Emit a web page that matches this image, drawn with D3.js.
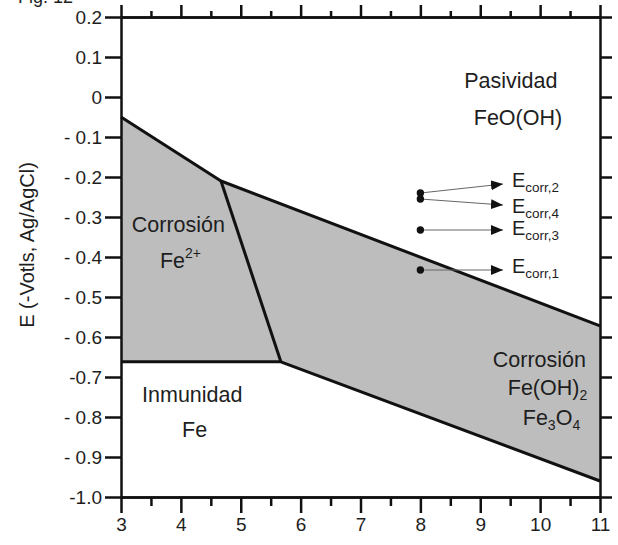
<!DOCTYPE html>
<html>
<head>
<meta charset="utf-8">
<script src="https://cdn.jsdelivr.net/npm/d3@7"></script>
<style>
  body { margin: 0; background: #fff; }
  svg text { font-family: "Liberation Sans", Arial, sans-serif; fill: #1e1e1e; }
</style>
</head>
<body>
<svg id="chart" width="618" height="545"></svg>
<script>
// data
const xTicks = [3, 4, 5, 6, 7, 8, 9, 10, 11];
const yTicks = [0.2, 0.1, 0, -0.1, -0.2, -0.3, -0.4, -0.5, -0.6, -0.7, -0.8, -0.9, -1.0];
const yTickLabels = ["0.2", "0.1", "0", "- 0.1", "- 0.2", "- 0.3", "- 0.4", "- 0.5", "- 0.6", "-0.7", "- 0.8", "- 0.9", "-1.0"];

// shaded corrosion region (pH, E)
const corrosionArea = [[3, -0.05], [4.67, -0.21], [11, -0.572], [11, -0.96], [5.67, -0.662], [3, -0.662]];
// boundary lines
const boundaries = [
  [[3, -0.05], [4.67, -0.21], [11, -0.572]],
  [[4.67, -0.21], [5.67, -0.662]],
  [[3, -0.662], [5.67, -0.662], [11, -0.96]]
];

// corrosion potentials: point, arrow tip, label baseline
const ecorrNames = ["2", "4", "3", "1"];
const ecorrPH = [8, 8, 8, 8];
const ecorrE = [-0.24, -0.255, -0.3325, -0.4325];
const arrowEndPH = [9.38, 9.38, 9.38, 9.38];
const arrowEndE = [-0.2175, -0.27, -0.3325, -0.4325];
const labelE = [-0.225, -0.29, -0.345, -0.44];

const svg = d3.select("#chart");
const margin = {left: 121, top: 17, right: 18, bottom: 48};
const width = 600 - margin.left;
const height = 497 - margin.top;

const x = d3.scaleLinear().domain([3, 11]).range([margin.left, margin.left + width]);
const y = d3.scaleLinear().domain([-1.0, 0.2]).range([margin.top + height, margin.top]);

// shaded area
svg.append("path")
  .datum(corrosionArea)
  .attr("d", d3.line().x(d => x(d[0])).y(d => y(d[1])))
  .attr("fill", "#bdbdbd")
  .attr("stroke", "none");

svg.selectAll(".boundary")
  .data(boundaries)
  .enter().append("path")
  .attr("class", "boundary")
  .attr("d", d3.line().x(d => x(d[0])).y(d => y(d[1])))
  .attr("fill", "none")
  .attr("stroke", "#111")
  .attr("stroke-width", 3)
  .attr("stroke-linejoin", "round");

// axes
const minorX = d3.range(3.5, 11, 1);
function styleAxis(g) {
  g.select(".domain").attr("stroke", "#111").attr("stroke-width", 2.5);
  g.selectAll(".tick line").attr("stroke", "#111").attr("stroke-width", 2.5);
}

const axBottom = svg.append("g").attr("transform", "translate(0," + (margin.top + height) + ")");
axBottom.call(d3.axisBottom(x).tickValues(minorX).tickSize(9).tickFormat("").tickSizeOuter(0));
axBottom.call(styleAxis);
const axBottomMajor = svg.append("g").attr("transform", "translate(0," + (margin.top + height) + ")");
axBottomMajor.call(d3.axisBottom(x).tickValues(xTicks).tickSize(16).tickSizeOuter(0).tickPadding(5).tickFormat(d3.format("d")));
axBottomMajor.call(styleAxis);
axBottomMajor.selectAll("text").attr("font-size", 19);

const axTop = svg.append("g").attr("transform", "translate(0," + margin.top + ")");
axTop.call(d3.axisTop(x).tickValues(minorX).tickSize(6).tickFormat("").tickSizeOuter(0));
axTop.call(styleAxis);
const axTopMajor = svg.append("g").attr("transform", "translate(0," + margin.top + ")");
axTopMajor.call(d3.axisTop(x).tickValues(xTicks).tickSize(12).tickFormat("").tickSizeOuter(0));
axTopMajor.call(styleAxis);

const axLeft = svg.append("g").attr("transform", "translate(" + margin.left + ",0)");
axLeft.call(d3.axisLeft(y).tickValues(yTicks).tickSize(16).tickSizeOuter(0).tickPadding(3)
  .tickFormat((d, i) => yTickLabels[i]));
axLeft.call(styleAxis);
axLeft.selectAll("text").attr("font-size", 19);

const axRight = svg.append("g").attr("transform", "translate(" + (margin.left + width) + ",0)");
axRight.call(d3.axisRight(y).tickValues(yTicks).tickSize(12).tickFormat("").tickSizeOuter(0));
axRight.call(styleAxis);

// y title
svg.append("text")
  .attr("transform", "translate(34," + y(-0.37) + ") rotate(-90)")
  .attr("text-anchor", "middle")
  .attr("font-size", 20)
  .text("E (-Votls, Ag/AgCl)");

// figure caption (cut at top)
svg.append("text")
  .attr("x", 18).attr("y", 3)
  .attr("font-size", 18)
  .text("Fig. 12");

// region labels
function label(txt, px, py, anchor) {
  return svg.append("text")
    .attr("x", px).attr("y", py)
    .attr("text-anchor", anchor || "middle")
    .attr("font-size", 21.5)
    .text(txt);
}
label("Pasividad", x(9.51), y(0.0225));
label("FeO(OH)", x(9.63), y(-0.07));
label("Corrosión", x(3.18), y(-0.3375), "start");
const fe2 = label("", x(3.65), y(-0.4275), "start");
fe2.append("tspan").text("Fe");
fe2.append("tspan").attr("dy", -10).attr("font-size", 14).text("2+");
label("Inmunidad", x(4.19), y(-0.7625));
label("Fe", x(4.23), y(-0.85));

// lower right region
label("Corrosión", x(9.21), y(-0.675), "start");
const feoh = label("", x(9.46), y(-0.745), "start");
feoh.append("tspan").text("Fe(OH)");
feoh.append("tspan").attr("dy", 5).attr("font-size", 14).text("2");
const fe3o4 = label("", x(9.71), y(-0.82), "start");
fe3o4.append("tspan").text("Fe");
fe3o4.append("tspan").attr("dy", 5).attr("font-size", 14).text("3");
fe3o4.append("tspan").attr("dy", -5).text("O");
fe3o4.append("tspan").attr("dy", 5).attr("font-size", 14).text("4");

// Ecorr arrows
svg.append("defs").append("marker")
  .attr("id", "arrow")
  .attr("viewBox", "0 0 10 10")
  .attr("refX", 10).attr("refY", 5)
  .attr("markerWidth", 12).attr("markerHeight", 10)
  .attr("markerUnits", "userSpaceOnUse")
  .attr("orient", "auto")
  .attr("preserveAspectRatio", "none")
  .append("path").attr("d", "M0,0 L10,5 L0,10 Z").attr("fill", "#111");

ecorrNames.forEach((n, i) => {
  svg.append("line")
    .attr("x1", x(ecorrPH[i])).attr("y1", y(ecorrE[i]))
    .attr("x2", x(arrowEndPH[i])).attr("y2", y(arrowEndE[i]))
    .attr("stroke", "#666").attr("stroke-width", 1)
    .attr("marker-end", "url(#arrow)");
  svg.append("circle")
    .attr("cx", x(ecorrPH[i])).attr("cy", y(ecorrE[i]))
    .attr("r", 3.7).attr("fill", "#111");
  const t = svg.append("text")
    .attr("x", x(arrowEndPH[i]) + 9).attr("y", y(labelE[i]))
    .attr("font-size", 20);
  t.append("tspan").text("E");
  t.append("tspan").attr("dy", 5).attr("font-size", 13.5).text("corr," + n);
});
</script>
</body>
</html>
